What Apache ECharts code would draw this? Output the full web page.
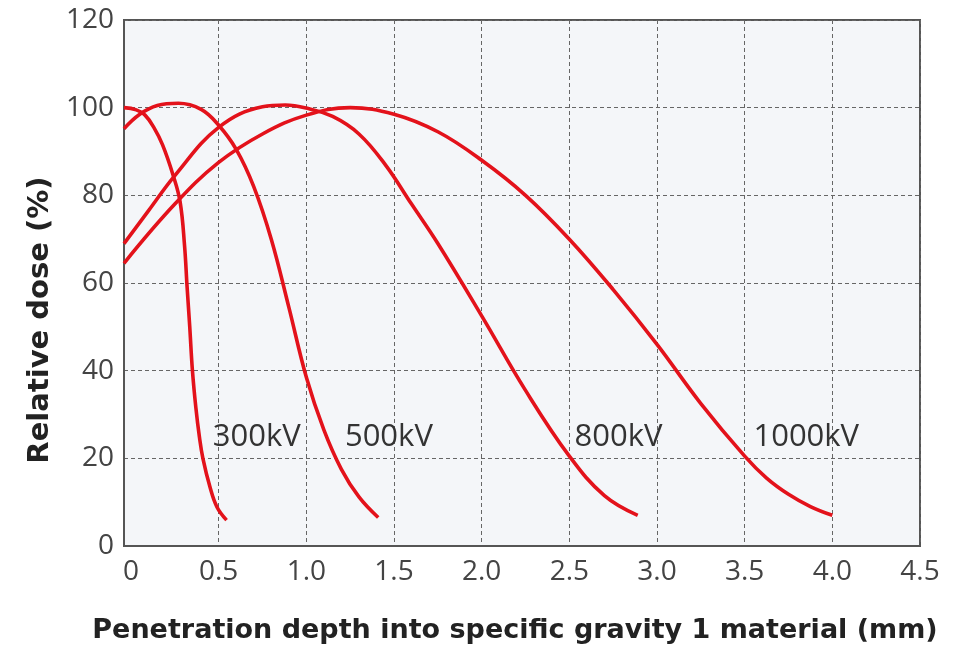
<!DOCTYPE html>
<html>
<head>
<meta charset="utf-8">
<script src="https://cdn.jsdelivr.net/npm/echarts@6/dist/echarts.min.js"></script>
<style>
  html, body { margin: 0; padding: 0; background: #fff; }
  #chart { width: 972px; height: 655px; }
</style>
</head>
<body>
<div id="chart"></div>
<script>
// tick values (no grid line at 0, the frame is there)
var xTicks = [0, 0.5, 1.0, 1.5, 2.0, 2.5, 3.0, 3.5, 4.0, 4.5]
var xGrid = [0.5, 1.0, 1.5, 2.0, 2.5, 3.0, 3.5, 4.0, 4.5]

// curve names and [depth, dose] points
var names = ['300kV', '500kV', '800kV', '1000kV']
var kv300 = [[-0.04, 100], [0.03, 99.5], [0.08, 98.3], [0.13, 95.5], [0.18, 91.5], [0.24, 84.6], [0.28, 78.5],
    [0.305, 68.7], [0.32, 59], [0.335, 50], [0.35, 40.2], [0.37, 31.5], [0.39, 24.9], [0.41, 20], [0.45, 13.5],
    [0.49, 8.9], [0.545, 5.9]]
var kv500 = [[-0.04, 95.2], [0.05, 98.5], [0.15, 100.5], [0.27, 101], [0.4, 99.6], [0.5, 96], [0.6, 90.5],
    [0.7, 82], [0.8, 70], [0.9, 54.5], [1.0, 38.5], [1.1, 26.5], [1.2, 17.5], [1.3, 11.2], [1.41, 6.5]]
var kv800 = [[-0.04, 69], [0.1, 76.5], [0.25, 84.5], [0.5, 95.5], [0.75, 100.2], [0.88, 100.6], [1.0, 99.9],
    [1.15, 98], [1.3, 94], [1.45, 87], [1.6, 78], [1.75, 69], [2.0, 52.5], [2.25, 35.5], [2.5, 20.5],
    [2.7, 11.5], [2.89, 7]]
var kv1000 = [[-0.04, 64.5], [0.25, 78], [0.5, 87.5], [0.75, 94], [1.0, 98.3], [1.25, 100], [1.5, 98.5],
    [1.75, 94.5], [2.0, 88], [2.25, 80], [2.5, 70], [2.75, 58.5], [3.0, 46], [3.25, 32.5], [3.5, 20.5],
    [3.625, 15.5], [3.75, 11.8], [3.875, 9], [4.0, 7]]
var curves = [kv300, kv500, kv800, kv1000]
// where each curve's name sits (data coords, left edge of text)
var labelX = [0.466, 1.22, 2.53, 3.55]
var labelY = 24.9

var font = '"Open Sans", "Noto Sans", sans-serif'
var titleFont = '"DejaVu Sans", sans-serif'
var red = '#e3121b'

var series = []
for (var i = 0; i < curves.length; i++) {
    series.push({
        name: names[i],
        type: 'line',
        smooth: 0.4,
        symbol: 'none',
        data: curves[i],
        lineStyle: { color: red, width: 3.6 },
        markPoint: {
            symbol: 'circle',
            symbolSize: 0,
            silent: true,
            data: [{ coord: [labelX[i], labelY] }],
            label: {
                show: true,
                position: 'right',
                distance: 0,
                formatter: names[i],
                color: '#333',
                fontFamily: font,
                fontSize: 31
            }
        }
    })
}

var myChart = echarts.init(document.getElementById('chart'))
var option = {
    animation: false,
    grid: {
        left: 124,
        right: 52,
        top: 20,
        bottom: 109,
        show: true,
        backgroundColor: '#f4f6f9',
        borderColor: '#555',
        borderWidth: 2
    },
    graphic: [
        {
            type: 'text',
            x: 515,
            y: 631,
            style: {
                text: 'Penetration depth into specific gravity 1 material (mm)',
                fill: '#222',
                font: 'bold 27px ' + titleFont,
                align: 'center',
                verticalAlign: 'middle'
            }
        },
        {
            type: 'text',
            x: 40,
            y: 320,
            rotation: Math.PI / 2,
            style: {
                text: 'Relative dose (%)',
                fill: '#222',
                font: 'bold 29px ' + titleFont,
                align: 'center',
                verticalAlign: 'middle'
            }
        }
    ],
    xAxis: {
        type: 'value',
        min: -0.04,
        max: 4.5,
        axisLine: { show: true, onZero: false, lineStyle: { color: '#555', width: 2 } },
        axisTick: { show: false, customValues: xGrid },
        axisLabel: {
            customValues: xTicks,
            color: '#444',
            fontFamily: font,
            fontSize: 28,
            margin: 12,
            formatter: function (v) { return v === 0 ? '0' : v.toFixed(1) }
        },
        splitLine: { show: true, lineStyle: { color: '#666', type: [4, 3], width: 1 } }
    },
    yAxis: {
        type: 'value',
        min: 0,
        max: 120,
        interval: 20,
        axisLine: { show: true, onZero: false, lineStyle: { color: '#555', width: 2 } },
        axisTick: { show: false },
        axisLabel: { color: '#444', fontFamily: font, fontSize: 28, margin: 10 },
        splitLine: { show: true, lineStyle: { color: '#666', type: [4, 3], width: 1 } }
    },
    series: series
}
myChart.setOption(option)
</script>
</body>
</html>
